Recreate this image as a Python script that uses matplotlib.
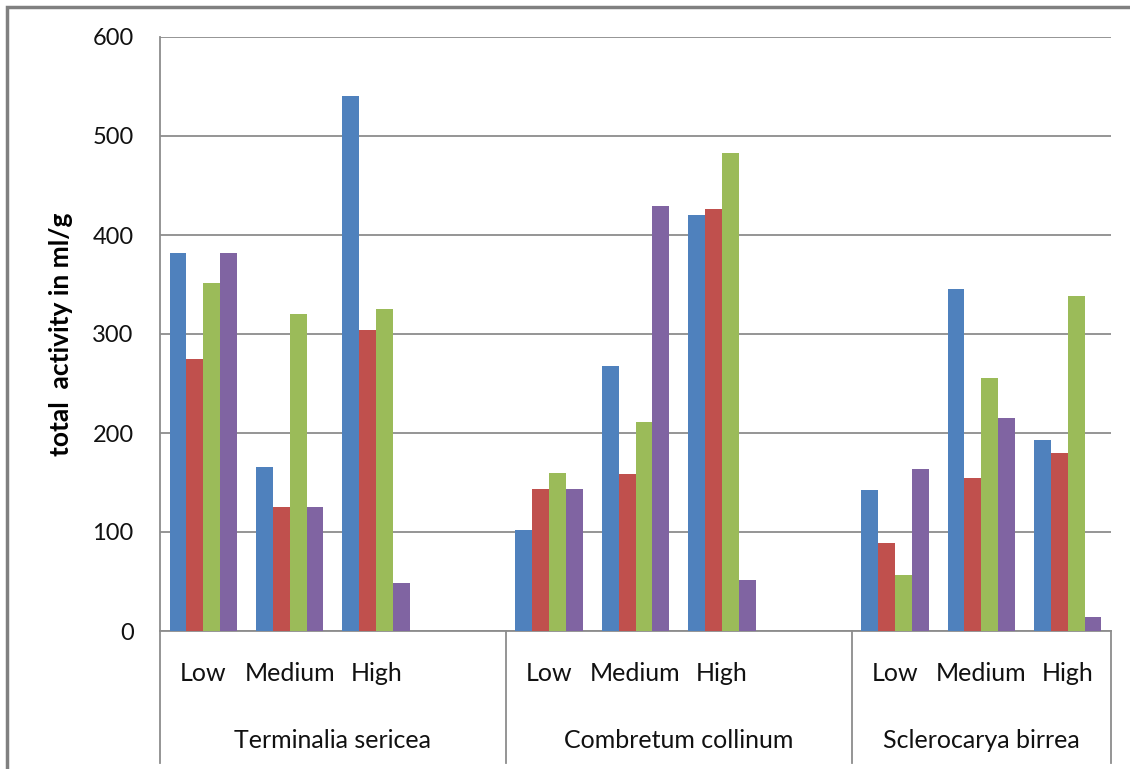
import matplotlib.pyplot as plt
import numpy as np

species = ["Terminalia sericea", "Combretum collinum", "Sclerocarya birrea"]
levels = ["Low", "Medium", "High"]

# one list per series, 3 levels for each species, in species order
series1 = [382, 166, 540, 102, 268, 420, 142, 345, 193]
series2 = [275, 125, 304, 143, 159, 426, 89, 155, 180]
series3 = [352, 320, 325, 160, 211, 483, 57, 256, 338]
series4 = [382, 125, 48, 143, 429, 52, 164, 215, 14]

colors = ["#4F81BD", "#C0504D", "#9BBB59", "#8064A2"]
grid_col = "#8C8C8C"

plt.rcParams['font.family'] = ['Lato', 'DejaVu Sans']

fig = plt.figure(figsize=(11.3, 7.69), dpi=100)
W, H = 1130, 769
ax = fig.add_axes([160 / W, 1 - 631 / H, (1111 - 160) / W, (631 - 37) / H])

# slot positions: 3 levels per species, then an empty slot
pos = []
for s in range(len(species)):
    for k in range(len(levels)):
        pos.append(s * 4 + k)
pos = np.array(pos)

bw = 0.195
all_series = [series1, series2, series3, series4]
for i, vals in enumerate(all_series):
    ax.bar(pos + (i - 1.5) * bw, vals, width=bw, color=colors[i],
           edgecolor='none', zorder=3)

ax.set_xlim(-0.5, 10.5)
ax.set_ylim(0, 600)
ax.set_yticks(range(0, 601, 100))
ax.yaxis.grid(True, color=grid_col, linewidth=1.3, zorder=0)
ax.tick_params(axis='y', length=0, pad=19, labelsize=17, labelcolor='#111111')
ax.set_xticks([])
for side in ['top', 'right']:
    ax.spines[side].set_visible(False)
for side in ['left', 'bottom']:
    ax.spines[side].set_color(grid_col)
    ax.spines[side].set_linewidth(1.3)

ax.set_ylabel("total  activity in ml/g", fontsize=19, fontweight='bold', labelpad=14)

# category axis below the plot
trans = ax.get_xaxis_transform()
bounds = [-0.5, 3.5, 7.5, 10.5]
for xline in bounds:
    ax.plot([xline, xline], [0, -0.222], transform=trans, color=grid_col,
            linewidth=1.3, clip_on=False)
for p in pos:
    ax.text(p, -0.072, levels[p % 4], transform=trans, ha='center', va='center',
            fontsize=18, color='#111111')
for s, name in enumerate(species):
    mid = (bounds[s] + bounds[s + 1]) / 2
    ax.text(mid, -0.185, name, transform=trans, ha='center', va='center',
            fontsize=18, color='#111111')

# outer chart frame
frame = plt.Rectangle((7 / W, -0.1), 1.2, 1 - 7 / H + 0.1, transform=fig.transFigure,
                      fill=False, edgecolor='#808080', linewidth=2.5)
fig.add_artist(frame)

fig.savefig("out.png", dpi=100)
